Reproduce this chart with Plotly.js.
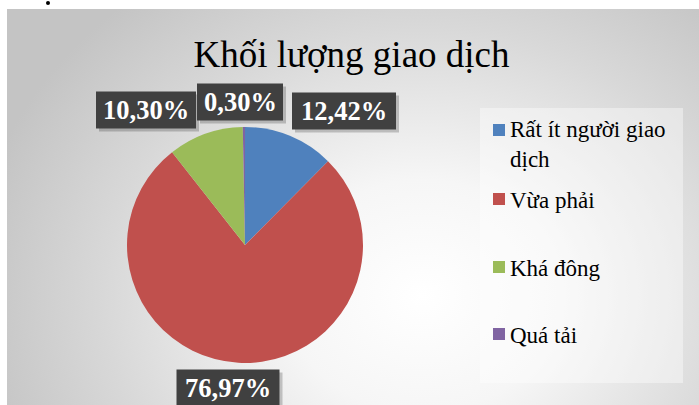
<!DOCTYPE html>
<html>
<head>
<meta charset="utf-8">
<script src="https://cdn.plot.ly/plotly-3.0.1.min.js"></script>
<style>html,body{margin:0;padding:0;background:#fff;}#chart{width:699px;height:405px;}</style>
</head>
<body>
<div id="chart"></div>
<script>
// ---- data ----
const categories = ['Rất ít người giao dịch', 'Vừa phải', 'Khá đông', 'Quá tải'];
const legendLabels = ['Rất ít người giao<br>dịch', 'Vừa phải', 'Khá đông', 'Quá tải'];
const values = [12.42, 76.97, 10.30, 0.30];
const colors = ['#4F81BD', '#C0504D', '#9BBB59', '#8064A2'];
const chartTitle = 'Khối lượng giao dịch';

// ---- layout helpers (pixel -> paper) ----
const W = 699, H = 405;
const px = x => x / W;
const py = y => 1 - y / H;
const SERIF = 'Liberation Serif, Times New Roman, serif';

// pie geometry
const cx = 245, cy = 245, R = 118;

// data label boxes (centre px, width)
const labelPos = [[344, 111, 104], [228, 388, 103], [146, 110, 100], [240, 102, 86]];
const boxH = 37;
const legendY = [144, 200, 268, 335];
const legendSq = [130, 199, 267, 334];

const pctText = values.map(v => v.toFixed(2).replace('.', ',') + '%');

const bgSvg = '<svg xmlns="http://www.w3.org/2000/svg" width="700" height="400" viewBox="0 0 700 400" preserveAspectRatio="none">' +
  '<defs><radialGradient id="g" cx="420" cy="290" r="460" gradientUnits="userSpaceOnUse" gradientTransform="translate(420 290) scale(1 0.85) translate(-420 -290)">' +
  '<stop offset="0" stop-color="#ffffff"/><stop offset="0.3" stop-color="#f6f6f6"/><stop offset="0.7" stop-color="#d8d8d8"/><stop offset="1" stop-color="#c4c4c4"/></radialGradient></defs>' +
  '<rect x="0" y="0" width="700" height="400" fill="url(#g)"/></svg>';

const shapes = [
  {type: 'rect', xref: 'paper', yref: 'paper', x0: px(480), x1: px(683), y0: py(383), y1: py(108),
   fillcolor: 'rgba(255,255,255,0.4)', line: {width: 0}, layer: 'below'},
  {type: 'circle', xref: 'paper', yref: 'paper', x0: px(46), x1: px(50), y0: py(5), y1: py(1),
   fillcolor: '#000', line: {width: 0}}
];
// label shadows and boxes (shapes, drawn under the annotation text)
values.forEach((v, i) => {
  const [x, y, w] = labelPos[i];
  shapes.push({type: 'rect', xref: 'paper', yref: 'paper', layer: 'above',
    x0: px(x - w / 2 + 3), x1: px(x + w / 2 + 3), y0: py(y + boxH / 2 + 3), y1: py(y - boxH / 2 + 3),
    fillcolor: 'rgba(0,0,0,0.2)', line: {width: 0}});
});
values.forEach((v, i) => {
  const [x, y, w] = labelPos[i];
  shapes.push({type: 'rect', xref: 'paper', yref: 'paper', layer: 'above',
    x0: px(x - w / 2), x1: px(x + w / 2), y0: py(y + boxH / 2), y1: py(y - boxH / 2),
    fillcolor: '#404040', line: {width: 0}});
});
colors.forEach((c, i) => {
  shapes.push({type: 'rect', xref: 'paper', yref: 'paper', x0: px(493), x1: px(505),
    y0: py(legendSq[i] + 6), y1: py(legendSq[i] - 6), fillcolor: c, line: {width: 0}});
});

const annotations = [];
values.forEach((v, i) => {
  const [x, y] = labelPos[i];
  annotations.push({
    x: px(x), y: py(y), xref: 'paper', yref: 'paper', showarrow: false,
    xanchor: 'center', yanchor: 'middle', text: pctText[i],
    font: {family: SERIF, size: 26.5, color: '#ffffff', weight: 'bold'}
  });
});
legendLabels.forEach((t, i) => {
  annotations.push({
    x: px(508), y: py(legendY[i]), xref: 'paper', yref: 'paper', showarrow: false,
    xanchor: 'left', yanchor: 'middle', align: 'left', text: t,
    font: {family: SERIF, size: 23, color: '#000000'}
  });
});

const trace = {
  type: 'pie',
  labels: categories,
  values: values,
  sort: false,
  direction: 'clockwise',
  rotation: 0,
  marker: {colors: colors, line: {width: 0}},
  textinfo: 'none',
  hoverinfo: 'label+percent',
  showlegend: false,
  domain: {x: [px(cx - R), px(cx + R)], y: [py(cy + R), py(cy - R)]}
};

const layout = {
  width: W, height: H,
  margin: {l: 0, r: 0, t: 0, b: 0},
  paper_bgcolor: '#ffffff',
  showlegend: false,
  title: {
    text: chartTitle, x: 351.5 / W, xanchor: 'center', xref: 'container',
    y: 1 - 54 / H, yref: 'container', yanchor: 'middle',
    font: {family: SERIF, size: 37, color: '#000000'}
  },
  images: [{
    source: 'data:image/svg+xml;charset=utf-8,' + encodeURIComponent(bgSvg),
    xref: 'paper', yref: 'paper', x: px(7), y: py(9), sizex: px(W - 7), sizey: (H - 9) / H,
    xanchor: 'left', yanchor: 'top', sizing: 'stretch', layer: 'below'
  }],
  shapes: shapes,
  annotations: annotations
};

Plotly.newPlot('chart', [trace], layout, {displayModeBar: false, staticPlot: true});
</script>
</body>
</html>
